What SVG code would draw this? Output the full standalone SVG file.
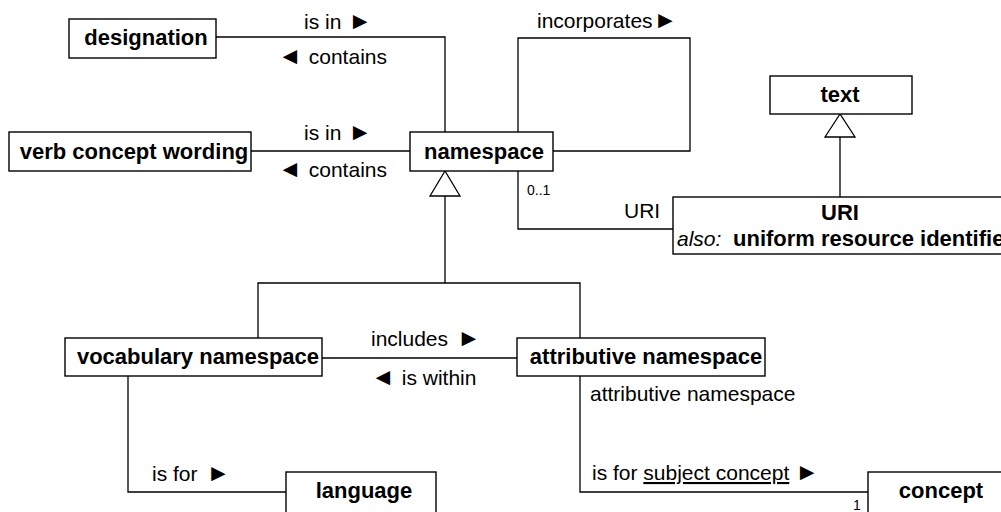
<svg xmlns="http://www.w3.org/2000/svg" width="1001" height="512" viewBox="0 0 1001 512">
<style>
.box{fill:#fff;stroke:#000;stroke-width:1.4}
.nb{font-family:"Liberation Sans",Arial,sans-serif;font-weight:bold;font-size:22px;fill:#000;text-anchor:middle}
.lbl{font-family:"Liberation Sans",Arial,sans-serif;font-size:21px;fill:#000}
.ar{font-size:24px}
.sm{font-family:"Liberation Sans",Arial,sans-serif;font-size:14px;fill:#000}
.ln{fill:none;stroke:#000;stroke-width:1.3}
.gen{fill:#fff;stroke:#000;stroke-width:1.3}
</style>
<rect width="1001" height="512" fill="#fff"/>
<g id="connectors">
<path class="ln" d="M216,37 H445 V132"/>
<path class="ln" d="M251,151 H410"/>
<path class="ln" d="M518,132 V38 H690 V151 H553"/>
<path class="ln" d="M518,171 V229 H673"/>
<path class="ln" d="M445,196 V283 M258,338 V283 H580 V338"/>
<polygon class="gen" points="445,171 430,196 460,196"/>
<path class="ln" d="M840,137 V197"/>
<polygon class="gen" points="840,114 825,137 855,137"/>
<path class="ln" d="M322,358 H517"/>
<path class="ln" d="M128,376 V492 H286"/>
<path class="ln" d="M580,376 V492 H868"/>
<text class="lbl" x="304" y="29">is in<tspan class="ar" dx="7">►</tspan></text>
<text class="lbl" x="278" y="64"><tspan class="ar">◄</tspan><tspan dx="7">contains</tspan></text>
<text class="lbl" x="304" y="140">is in<tspan class="ar" dx="7">►</tspan></text>
<text class="lbl" x="278" y="177"><tspan class="ar">◄</tspan><tspan dx="7">contains</tspan></text>
<text class="lbl" x="537" y="28">incorporates<tspan class="ar" dx="1">►</tspan></text>
<text class="sm" x="527" y="195">0..1</text>
<text class="lbl" x="624" y="218">URI</text>
<text class="lbl" x="371" y="346">includes<tspan class="ar" dx="9">►</tspan></text>
<text class="lbl" x="371" y="385"><tspan class="ar">◄</tspan><tspan dx="7">is within</tspan></text>
<text class="lbl" x="152" y="481">is for<tspan class="ar" dx="9">►</tspan></text>
<text class="lbl" x="590" y="401">attributive namespace</text>
<text class="lbl" x="592" y="480">is for <tspan text-decoration="underline">subject concept</tspan><tspan class="ar" dx="6">►</tspan></text>
<text class="sm" x="853" y="510">1</text>
</g>
<g id="designation">
<rect class="box" x="69" y="19" width="147" height="39"/>
<text class="nb" x="146" y="45">designation</text>
</g>
<g id="verb-concept-wording">
<rect class="box" x="9" y="132" width="242" height="39"/>
<text class="nb" x="134" y="159">verb concept wording</text>
</g>
<g id="namespace">
<rect class="box" x="410" y="132" width="143" height="39"/>
<text class="nb" x="484" y="159">namespace</text>
</g>
<g id="text">
<rect class="box" x="770" y="76" width="142" height="38"/>
<text class="nb" x="840" y="102">text</text>
</g>
<g id="uri">
<rect class="box" x="673" y="197" width="340" height="57"/>
<text class="nb" x="840" y="220">URI</text>
<text x="677" y="246" font-family="Liberation Sans,Arial,sans-serif" font-size="21" font-style="italic">also:</text>
<text x="733" y="246" font-family="Liberation Sans,Arial,sans-serif" font-size="22" font-weight="bold">uniform resource identifier</text>
</g>
<g id="vocabulary-namespace">
<rect class="box" x="65" y="338" width="257" height="38"/>
<text class="nb" x="198" y="364">vocabulary namespace</text>
</g>
<g id="attributive-namespace">
<rect class="box" x="517" y="338" width="248" height="38"/>
<text class="nb" x="646" y="364">attributive namespace</text>
</g>
<g id="language">
<rect class="box" x="286" y="472" width="150" height="45"/>
<text class="nb" x="364" y="498">language</text>
</g>
<g id="concept">
<rect class="box" x="868" y="472" width="140" height="45"/>
<text class="nb" x="941" y="498">concept</text>
</g>
</svg>
